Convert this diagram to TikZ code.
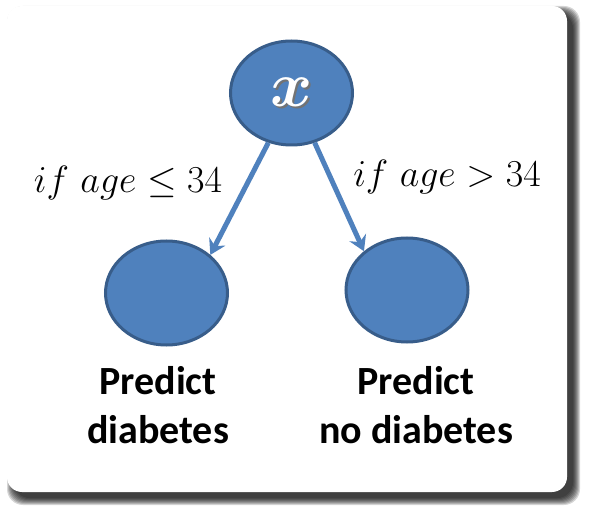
\RequirePackage{fix-cm}
\documentclass[tikz,border=0pt]{standalone}
\usepackage[no-math]{fontspec}
\newfontfamily\calibri{Carlito}
\usetikzlibrary{shapes.geometric,arrows.meta}
\definecolor{boxblue}{HTML}{4F81BD}
\definecolor{edgeblue}{HTML}{385D8A}
\tikzset{
  leaf/.style={ellipse,draw=edgeblue,fill=boxblue,line width=3pt,
    minimum width=122pt,minimum height=104pt,inner sep=0pt},
  branch/.style={draw=boxblue,line width=5pt,
    -{Stealth[length=15pt,width=18pt,inset=5pt]}},
  cond/.style={font=\fontsize{38}{38}\selectfont,anchor=base},
  outcome/.style={font=\calibri\bfseries\fontsize{40}{49}\selectfont,
    align=center,anchor=base},
}
\newcommand{\shadedx}{%
  \makebox[0pt][l]{\hspace{2pt}\raisebox{-2pt}{\color{black!55}$x$}}%
  \color{white}$x$}

\begin{document}
\begin{tikzpicture}[x=1pt,y=-1pt]
  \useasboundingbox (0,0) rectangle (590,516);
  % card and its shadow
  \foreach \s in {0,...,7}
    \fill[black,opacity=.16,rounded corners=16pt]
      (14-\s,13-\s) rectangle (573+\s,498+\s);
  \fill[white,rounded corners=15pt] (7,6) rectangle (567,492);

  \node[leaf,font=\fontsize{64}{64}\selectfont\boldmath] (root) at (291.5,93) {\shadedx};
  \node[leaf] (yes) at (166.5,293) {};
  \node[leaf] (no) at (407,290) {};

  \draw[branch] (root.245) -- (yes.41);
  \draw[branch] (root.295) -- (no.138);

  \node[cond] (ifle) at (128,193) {$if\ age\leq 34$};
  \node[cond] (ifgt) at (447,187) {$if\ age>34$};

  \node[outcome] (predyes) at (158,443) {Predict\\diabetes};
  \node[outcome] (predno) at (416,443) {Predict\\no diabetes};
\end{tikzpicture}
\end{document}
